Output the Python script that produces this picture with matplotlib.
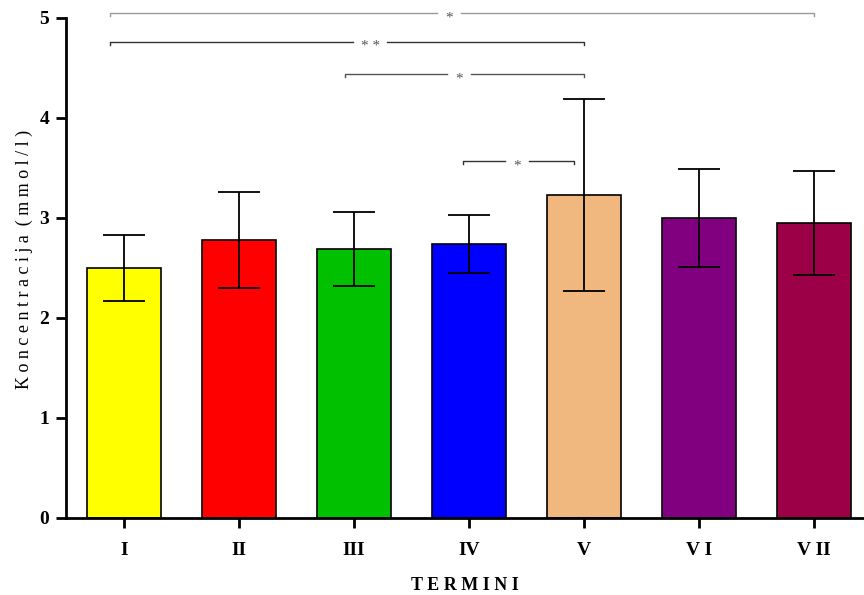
import matplotlib

matplotlib.use("Agg")
import matplotlib.pyplot as plt
import numpy as np

categories = ["I", "II", "III", "IV", "V", "V I", "V II"]
means = [2.50, 2.78, 2.69, 2.74, 3.23, 3.00, 2.95]
sd = [0.33, 0.48, 0.37, 0.29, 0.96, 0.49, 0.52]
colors = ["#FFFF00", "#FF0000", "#00C000", "#0000FF", "#F0B77F", "#800080", "#9C0046"]

# significance brackets: (from, to, height, label, label x)
brackets = [
    (-0.12, 6.00, 5.05, "*", 2.83),
    (-0.12, 4.00, 4.76, "* *", 2.14),
    (1.92, 4.00, 4.44, "*", 2.91),
    (2.95, 3.91, 3.57, "*", 3.42),
]
bracket_colors = ["#999999", "#333333", "#555555", "#333333"]
gap_half = [0.105, 0.15, 0.105, 0.105]

plt.rcParams["font.family"] = ["Liberation Serif", "DejaVu Serif"]

fig = plt.figure(figsize=(8.64, 5.95), dpi=100)
ax = fig.add_axes([66 / 864, 1 - 518 / 595, 798 / 864, 518 / 595])

x = np.arange(len(categories))
ax.bar(x, means, width=0.645, color=colors, edgecolor="black", linewidth=1.2, zorder=2)
ax.errorbar(x, means, yerr=sd, fmt="none", ecolor="black", elinewidth=1.3,
            capsize=15, capthick=1.3, zorder=3)

for (x1, x2, y, lab, lx), c, g in zip(brackets, bracket_colors, gap_half):
    ax.plot([x1, x1, lx - g], [y - 0.03, y, y], color=c, lw=1.0, clip_on=False)
    ax.plot([lx + g, x2, x2], [y, y, y - 0.03], color=c, lw=1.0, clip_on=False)
    ax.text(lx, y - 0.05, lab, ha="center", va="center", fontsize=11, color="#555555")

ax.set_xlim(-0.504, 6.435)
ax.set_ylim(0, 5.18)
ax.set_yticks([0, 1, 2, 3, 4, 5])
ax.set_xticks(x)
ax.set_xticklabels(categories, fontsize=14, fontweight="bold")
for lbl in ax.get_yticklabels():
    lbl.set_fontweight("bold")
    lbl.set_fontsize(14)

for side in ["top", "right"]:
    ax.spines[side].set_visible(False)
ax.spines["left"].set_bounds(0, 5)
ax.spines["left"].set_linewidth(2.0)
ax.spines["bottom"].set_linewidth(2.0)
ax.tick_params(axis="both", direction="out", length=7, width=2.0)
ax.tick_params(axis="x", pad=10)
ax.tick_params(axis="y", pad=5)

ax.set_ylabel("K o n c e n t r a c i j a  ( m m o l / l )", fontsize=13, labelpad=5)
ax.set_xlabel("T E R M I N I", fontsize=13, fontweight="bold", labelpad=13)

fig.savefig("out.png", dpi=100)
